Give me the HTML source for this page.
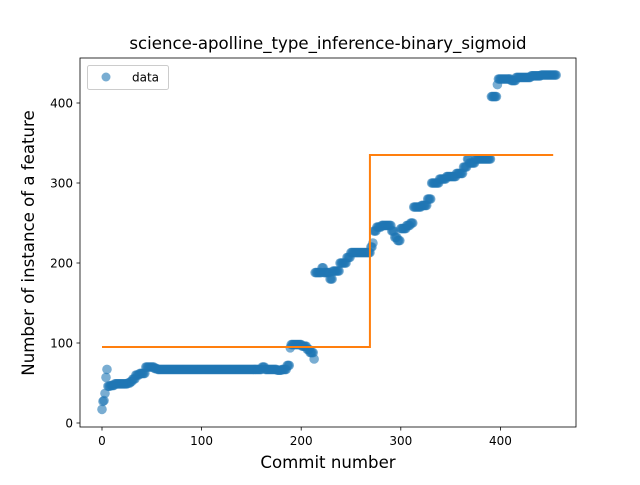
<!DOCTYPE html>
<html><head><meta charset="utf-8"><style>
body{margin:0;background:#fff}
svg text{font-family:"DejaVu Sans","Liberation Sans",sans-serif}
</style></head><body>
<svg id="chart" width="640" height="480" viewBox="0 0 640 480">
<rect width="640" height="480" fill="#fff"/>
<text x="328" y="49" font-size="16.6" text-anchor="middle">science-apolline_type_inference-binary_sigmoid</text>
<g id="plot"></g>
<rect x="80" y="58" width="496" height="369" fill="none" stroke="#000" stroke-width="0.8"/>
<g id="xt"></g>
<g id="yt"></g>
<text x="328" y="468" font-size="16.6" text-anchor="middle">Commit number</text>
<text transform="translate(34,243) rotate(-90)" font-size="16.6" text-anchor="middle">Number of instance of a feature</text>
<g>
<rect x="87.5" y="65.5" width="81" height="24" rx="2" fill="#fff" fill-opacity="0.8" stroke="#ccc"/>
<circle cx="106" cy="77" r="4.5" fill="#1f77b4" fill-opacity="0.6"/>
<text x="132" y="81.5" font-size="12">data</text>
</g>
</svg>
<script>
// runs: [value, count] for consecutive commits starting at 0
const runValues = [17,27,28,37,57,67,46,47,49,50,52,55,60,62,70,68,67,70,67,66,67,72,94,98,96,92,88,80,188,194,188,180,190,200,207,213,220,225,240,245,247,240,232,228,243,247,250,270,272,280,300,305,308,312,320,330,325,330,408,423,430,428,432,434,435];
const runCounts = [1,1,1,1,1,1,3,4,13,3,2,3,4,6,9,3,105,3,12,5,5,3,1,11,5,3,4,1,7,2,6,3,7,7,4,20,2,1,3,5,10,3,3,3,6,4,3,8,6,4,8,7,10,7,4,2,6,16,6,1,13,5,15,10,16];
const fitX = [0,269,269,453];
const fitY = [95,95,335,335];
const xTicks = [0,100,200,300,400];
const yTicks = [0,100,200,300,400];

const sx = v => 102 + v*0.996;
const sy = v => 423 - v*0.8;
const NS = 'http://www.w3.org/2000/svg';
const plot = document.getElementById('plot');

let idx = 0;
for (let r = 0; r < runValues.length; r++) {
  for (let k = 0; k < runCounts[r]; k++) {
    const c = document.createElementNS(NS,'circle');
    c.setAttribute('cx', sx(idx)); c.setAttribute('cy', sy(runValues[r]));
    c.setAttribute('r', 4.8); c.setAttribute('fill', '#1f77b4'); c.setAttribute('fill-opacity', 0.6);
    
    
    plot.appendChild(c);
    idx++;
  }
}
const pl = document.createElementNS(NS,'polyline');
pl.setAttribute('points', fitX.map((x,i)=>sx(x)+','+sy(fitY[i])).join(' '));
pl.setAttribute('fill','none'); pl.setAttribute('stroke','#ff7f0e'); pl.setAttribute('stroke-width',2);


plot.appendChild(pl);

const xt = document.getElementById('xt');
xTicks.forEach(t => {
  const l = document.createElementNS(NS,'line');
  l.setAttribute('x1',sx(t)); l.setAttribute('x2',sx(t)); l.setAttribute('y1',427); l.setAttribute('y2',430.5);
  l.setAttribute('stroke','#000'); l.setAttribute('stroke-width',0.8);
  
  
  xt.appendChild(l);
  const tx = document.createElementNS(NS,'text');
  tx.setAttribute('x',sx(t)); tx.setAttribute('y',445); tx.setAttribute('font-size',12); tx.setAttribute('text-anchor','middle');
  tx.textContent = t;
  
  
  xt.appendChild(tx);
});
const yt = document.getElementById('yt');
yTicks.forEach(t => {
  const l = document.createElementNS(NS,'line');
  l.setAttribute('x1',76.5); l.setAttribute('x2',80); l.setAttribute('y1',sy(t)); l.setAttribute('y2',sy(t));
  l.setAttribute('stroke','#000'); l.setAttribute('stroke-width',0.8);
  
  
  yt.appendChild(l);
  const tx = document.createElementNS(NS,'text');
  tx.setAttribute('x',73); tx.setAttribute('y',sy(t)+4.5); tx.setAttribute('font-size',12); tx.setAttribute('text-anchor','end');
  tx.textContent = t;
  
  
  yt.appendChild(tx);
});
</script>
</body></html>
